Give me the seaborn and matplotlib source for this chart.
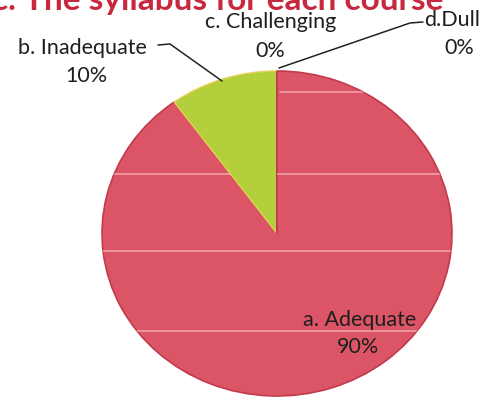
import matplotlib
matplotlib.use("Agg")
import matplotlib.pyplot as plt
from matplotlib.lines import Line2D
import seaborn as sns

# Survey responses
categories = ["a. Adequate", "b. Inadequate", "c. Challenging", "d.Dull"]
values = [90, 10, 0, 0]
title_text = "c. The syllabus for each course"

sns.set_theme(style="white")
plt.rcParams["font.family"] = ["Lato", "DejaVu Sans"]

colors = ["#dc5566", "#b3cf3c", "#e8a23a", "#7f7fcf"]

W, H = 486, 414
fig = plt.figure(figsize=(W / 100, H / 100), dpi=100)
fig.patch.set_facecolor("white")

# pie occupies a slightly squashed ellipse
cx, cy = 277, 234.5
rx, ry = 175, 162.5
ax = fig.add_axes([(cx - rx) / W, 1 - (cy + ry) / H, 2 * rx / W, 2 * ry / H])

wedges, _ = ax.pie(values, colors=colors, startangle=90, counterclock=False,
                   wedgeprops=dict(edgecolor="#c23a4c", linewidth=1.2))
wedges[1].set_edgecolor("#e6d05a")
wedges[1].set_linewidth(1.0)
ax.set_aspect("auto")
ax.set_xlim(-1, 1)
ax.set_ylim(-1, 1)
ax.axis("off")


def dx(px):
    return (px - cx) / rx


def dy(py):
    return (cy - py) / ry


# faint pale streaks across the red disc
for py, x0 in [(93, 280), (175, 60), (252, 60), (332, 60)]:
    ln = Line2D([dx(x0), 1.1], [dy(py), dy(py)], color="#f4b0b4",
                lw=1.3, alpha=0.75, zorder=3)
    ln.set_clip_path(wedges[0])
    ax.add_line(ln)

total = sum(values)
pct = [f"{v / total:.0%}" for v in values]

txt = dict(fontsize=15.5, color="#1e1e1e", ha="center", va="baseline",
           clip_on=False)

# a. Adequate (inside the slice)
ax.text(dx(360), dy(326), categories[0], **txt)
ax.text(dx(358), dy(353), pct[0], **txt)

# b. Inadequate
ax.text(dx(82), dy(54), categories[1], **txt)
ax.text(dx(86), dy(82), pct[1], **txt)
ax.add_line(Line2D([dx(158), dx(170), dx(222)], [dy(46), dy(45), dy(82)],
                   color="#222222", lw=1.1, clip_on=False))

# c. Challenging
ax.text(dx(271), dy(28), categories[2], **txt)
ax.text(dx(270), dy(57), pct[2], **txt)

# d. Dull
ax.text(dx(452), dy(26), categories[3], **txt)
ax.text(dx(459), dy(54), pct[3], **txt)
ax.add_line(Line2D([dx(423), dx(410), dx(279)], [dy(23), dy(24), dy(69)],
                   color="#222222", lw=1.1, clip_on=False))

# title, running off the top edge
fig.text(-8 / W, 1 - 10 / H, title_text, fontsize=24, fontweight="bold",
         color="#c8283e", ha="left", va="baseline")

fig.savefig("out.png", dpi=100, facecolor="white")
